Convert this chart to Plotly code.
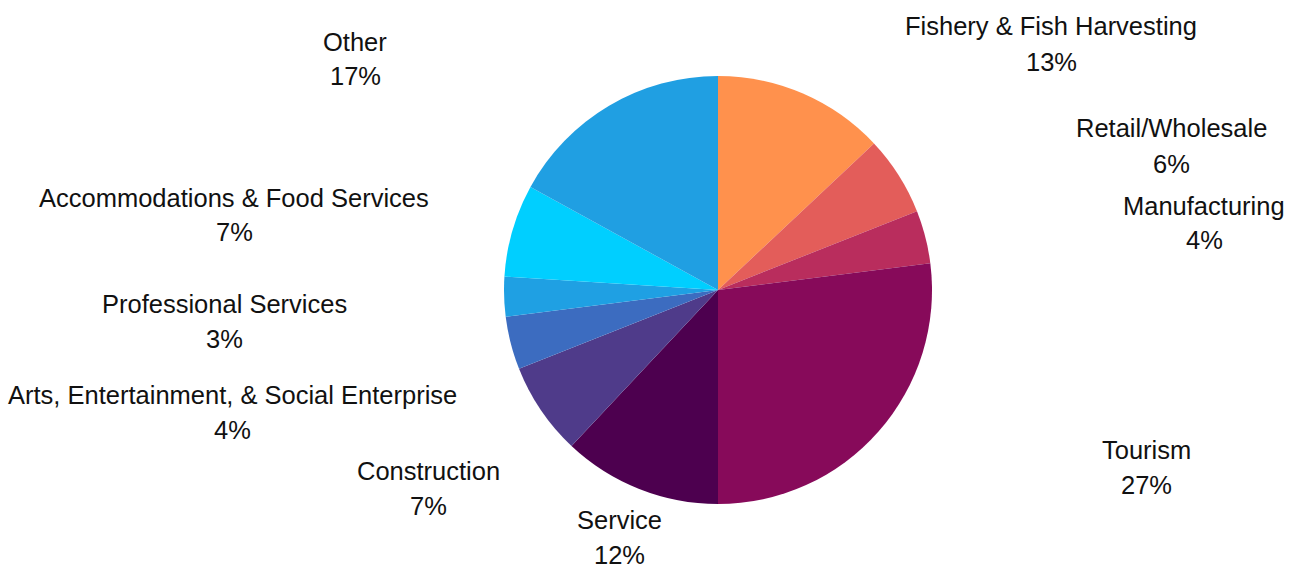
import plotly.graph_objects as go

categories = ["Fishery & Fish Harvesting", "Retail/Wholesale", "Manufacturing", "Tourism",
              "Service", "Construction", "Arts, Entertainment, & Social Enterprise",
              "Professional Services", "Accommodations & Food Services", "Other"]
values = [13, 6, 4, 27, 12, 7, 4, 3, 7, 17]
colors = ["#FF914D", "#E35D5A", "#B92D5D", "#870A5A", "#4D004F",
          "#4F3B8A", "#3C6CC0", "#1FA0E3", "#00CFFF", "#209FE2"]

# label block centres in pixels (layout only)
label_pos = [(1051, 44), (1171, 146), (1204, 223), (1146, 467), (619, 537),
             (428, 488), (232, 412), (224, 321), (234, 215), (355, 59)]

W, H = 1293, 567
cx, cy, r = 718, 290, 214

fig = go.Figure(go.Pie(
    labels=categories, values=values, sort=False, direction="clockwise", rotation=0,
    marker=dict(colors=colors, line=dict(width=0)), textinfo="none", hoverinfo="label+percent",
    domain=dict(x=[(cx - r) / W, (cx + r) / W], y=[1 - (cy + r) / H, 1 - (cy - r) / H]),
    showlegend=False,
))

total = sum(values)
font = dict(family="Liberation Sans, Arial, sans-serif", size=25.5, color="#111111")
for name, v, (px, py) in zip(categories, values, label_pos):
    fig.add_annotation(x=px / W, y=1 - (py - 17.5) / H, xref="paper", yref="paper",
                       text=name, showarrow=False, xanchor="center", yanchor="middle", font=font)
    fig.add_annotation(x=px / W, y=1 - (py + 17.5) / H, xref="paper", yref="paper",
                       text=f"{round(100 * v / total)}%", showarrow=False,
                       xanchor="center", yanchor="middle", font=font)

fig.update_layout(width=W, height=H, margin=dict(l=0, r=0, t=0, b=0),
                  paper_bgcolor="white", plot_bgcolor="white")
fig.write_html("out.html", config={"displayModeBar": False})

# remove the default page margin so the figure sits at the window's top-left corner
with open("out.html", encoding="utf-8") as f:
    html = f.read()
html = html.replace("<body>", '<body style="margin:0;overflow:hidden">', 1)
with open("out.html", "w", encoding="utf-8") as f:
    f.write(html)
